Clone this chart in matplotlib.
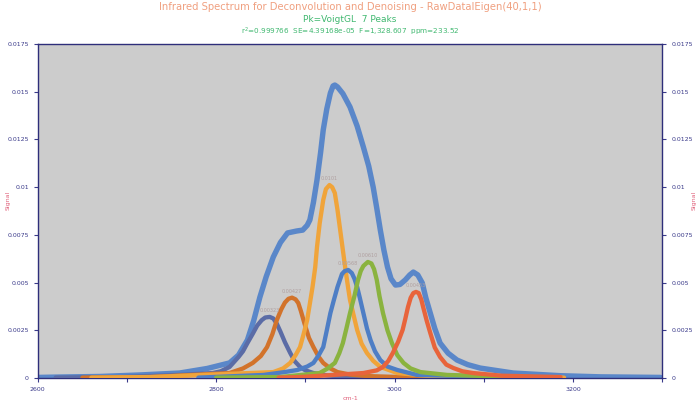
#Import libraries
import numpy as np
import matplotlib
matplotlib.use('Agg')
import matplotlib.pyplot as plt
from matplotlib.ticker import MultipleLocator
#/Import libraries

#Data: measured spectrum (cm-1, signal)#
sum_wn=[2600,2625,2670,2715,2759,2790,2815,2825,2835,2842,2849,2856,2864,2872,2880,2890,2897,2902,2905,2909,2913,2917,2920,2924,2928,2931,2933,2936,2942,2950,2958,2965,2971,2976,2980,2984,2988,2992,2996,3001,3006,3012,3017,3021,3026,3031,3035,3040,3045,3051,3060,3070,3082,3096,3133,3186,3231,3298]
sum_val=[0.00003,0.00005,0.00008,0.00016,0.00026,0.0005,0.00079,0.0012,0.00199,0.0030,0.00424,0.0053,0.00634,0.0071,0.0076,0.0077,0.00775,0.0080,0.00828,0.0092,0.01038,0.0118,0.0130,0.0141,0.01493,0.0153,0.01535,0.01525,0.0149,0.0142,0.0132,0.0121,0.0111,0.0100,0.0089,0.00775,0.0067,0.00582,0.0052,0.00487,0.0049,0.00514,0.0054,0.00555,0.0054,0.00498,0.0042,0.0034,0.0026,0.00183,0.0013,0.00094,0.0007,0.00052,0.00026,0.00012,0.00006,0.00003]

#Data: fitted peaks#
p1_wn=[2620,2692,2759,2796,2805,2815,2825,2830,2835,2841,2846,2851,2855,2860,2864,2868,2872,2877,2883,2888,2894,2900,2909,2925,2950,3029]
p1_val=[0.00002,0.00005,0.00016,0.00026,0.00035,0.00058,0.0011,0.0014,0.00183,0.00232,0.00275,0.00303,0.00317,0.0032,0.00312,0.00284,0.00243,0.00188,0.00131,0.00088,0.00058,0.0004,0.00026,0.00013,0.00005,0.00002]
p2_wn=[2650,2726,2815,2830,2841,2850,2857,2863,2868,2873,2877,2881,2885,2889,2892,2895,2899,2904,2909,2915,2920,2928,2936,2950,2970,3006,3096]
p2_val=[0.00002,0.00005,0.00026,0.0005,0.00079,0.00115,0.00162,0.0023,0.00304,0.0036,0.00395,0.00415,0.00421,0.00412,0.00393,0.0035,0.00285,0.0021,0.00162,0.0011,0.00079,0.0005,0.00031,0.00018,0.0001,0.00005,0.00002]
p3_wn=[2660,2726,2864,2875,2883,2889,2894,2898,2902,2905,2908,2911,2913,2916,2920,2923,2927,2930,2933,2936,2939,2942,2945,2948,2950,2954,2958,2963,2969,2976,2984,3003,3040,3096,3190]
p3_val=[0.00002,0.00005,0.00031,0.0005,0.00079,0.0012,0.00162,0.0023,0.00304,0.0039,0.00477,0.0058,0.00686,0.0081,0.00933,0.0099,0.01011,0.0100,0.00969,0.0088,0.00775,0.0067,0.00566,0.0047,0.00409,0.0033,0.00252,0.0018,0.00131,0.0009,0.00058,0.00026,0.0001,0.00005,0.00002]
p4_wn=[2780,2853,2875,2891,2902,2909,2915,2920,2924,2928,2932,2936,2941,2944,2948,2952,2955,2958,2961,2965,2969,2973,2978,2984,2992,3003,3025,3118]
p4_val=[0.00002,0.00016,0.0003,0.00042,0.0006,0.00079,0.0012,0.00162,0.0025,0.0034,0.0041,0.00477,0.00545,0.0056,0.00566,0.0055,0.0052,0.00477,0.0042,0.0034,0.0026,0.00199,0.0014,0.00094,0.0006,0.00042,0.00016,0.00005]
p5_wn=[2800,2872,2916,2925,2933,2938,2942,2946,2950,2955,2959,2962,2965,2970,2974,2977,2980,2983,2987,2992,2997,3003,3010,3018,3029,3059,3141]
p5_val=[0.00002,0.00005,0.00026,0.0005,0.00079,0.0013,0.00183,0.0026,0.0034,0.0043,0.00514,0.0056,0.00587,0.00608,0.006,0.0057,0.00514,0.0043,0.0034,0.0025,0.00183,0.0012,0.00079,0.0005,0.00031,0.00016,0.00005]
p6_wn=[2870,2894,2965,2980,2987,2993,2998,3004,3009,3012,3015,3018,3021,3024,3027,3030,3032,3036,3040,3045,3051,3058,3066,3076,3088,3120,3186]
p6_val=[0.00002,0.00005,0.00026,0.0004,0.00058,0.0009,0.00131,0.0019,0.00252,0.0031,0.00372,0.0042,0.00445,0.00451,0.00445,0.0041,0.00372,0.0030,0.00236,0.0016,0.0011,0.0007,0.00052,0.00035,0.00026,0.00012,0.00005]

peak_labels=['0.00323','0.00427','0.0101','0.00568','0.00610','0.00453']
peak_colors=['#5b6ca6','#d2732b','#f0a43a','#4e7ec5','#8ab33f','#e8643b']
#/Data#

#Figure#
fig=plt.figure(figsize=(7,4),dpi=100)
ax=fig.add_axes([0.054,0.055,0.892,0.835])
ax.set_facecolor('#cccccc')

ax.plot(sum_wn,sum_val,'-',color='#5a87c9',lw=3.9,solid_capstyle='round',solid_joinstyle='round',zorder=2)
peaks=[(p1_wn,p1_val),(p2_wn,p2_val),(p3_wn,p3_val),(p4_wn,p4_val),(p5_wn,p5_val),(p6_wn,p6_val)]
for (wn,val),c,lab in zip(peaks,peak_colors,peak_labels):
  ax.plot(wn,val,'-',color=c,lw=3.1,solid_capstyle='round',solid_joinstyle='round',zorder=3)
  i=int(np.argmax(val))
  ax.text(wn[i],val[i]+0.0002,lab,fontsize=3.5,color='#b0a0a0',ha='center',va='bottom',zorder=4)

ax.set_xlim(2600,3300);ax.set_ylim(0,0.0175)
ax.xaxis.set_major_locator(MultipleLocator(200))
ax.xaxis.set_minor_locator(MultipleLocator(100))
ax.set_yticks([0,0.0025,0.005,0.0075,0.01,0.0125,0.015,0.0175])
ax.set_yticklabels(['0','0.0025','0.005','0.0075','0.01','0.0125','0.015','0.0175'])
ax.tick_params(axis='both',labelsize=4.5,colors='#3a3a8a',length=3,width=0.8)
ax.tick_params(axis='x',which='minor',length=3,width=0.8,colors='#3a3a8a')
ax.tick_params(axis='y',right=True,labelright=True)
for s in ax.spines.values():
  s.set_color('#2e2e7a');s.set_linewidth(1.0)

#Labels#
ax.set_xlabel('cm-1',fontsize=4.5,color='#e0607a',labelpad=3)
fig.text(0.011,0.5,'Signal',rotation=90,ha='center',va='center',fontsize=4.5,color='#e0607a')
fig.text(0.991,0.5,'Signal',rotation=90,ha='center',va='center',fontsize=4.5,color='#e0607a')

fig.text(0.5,0.982,'Infrared Spectrum for Deconvolution and Denoising - RawDataIEigen(40,1,1)',ha='center',va='center',fontsize=7.2,color='#f0a080')
fig.text(0.5,0.95,'Pk=VoigtGL  7 Peaks',ha='center',va='center',fontsize=6.5,color='#40b870')
fig.text(0.5,0.92,'r$^2$=0.999766  SE=4.39168e-05  F=1,328.607  ppm=233.52',ha='center',va='center',fontsize=5.2,color='#40b870')
#/Labels#

fig.savefig('out.png',dpi=100,facecolor='white')
print('Finished!')
